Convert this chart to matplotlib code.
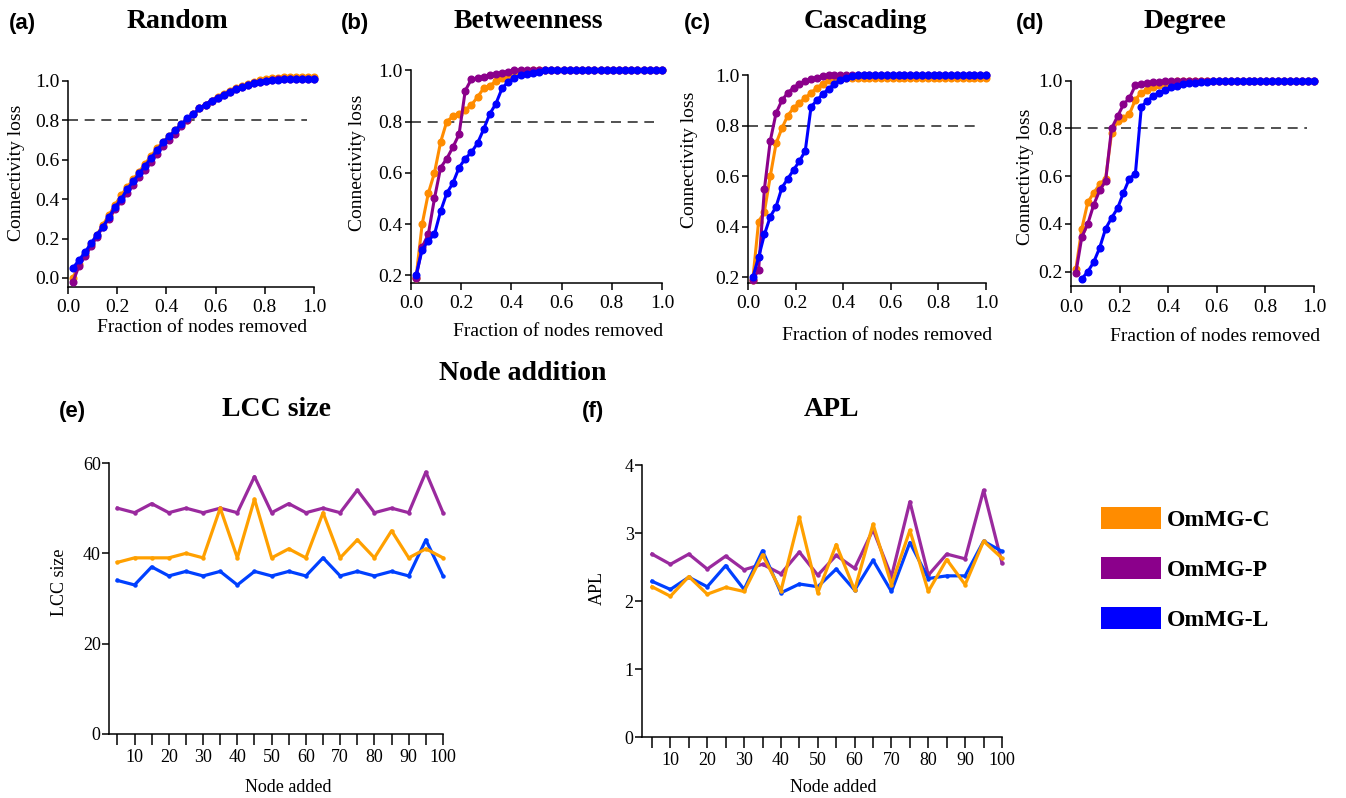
import numpy as np
import matplotlib
matplotlib.use("Agg")
import matplotlib.pyplot as plt
from matplotlib.patches import Patch
from matplotlib.font_manager import FontProperties

plt.rcParams['font.family'] = ['Liberation Serif', 'DejaVu Serif']

W, H = 1346, 798

# colours
C_TOP = {'C': '#FF8C00', 'P': '#8B008B', 'L': '#0000FF'}
C_BOT = {'C': '#FFA000', 'P': '#9A2A9E', 'L': '#0040FF'}

# ---- node removal (fraction of nodes removed vs connectivity loss)
frac = np.linspace(0.02, 1.0, 41)

random_c = [0.0, .07, .12, .17, .22, .27, .32, .37, .42, .46,
            .50, .54, .58, .62, .66, .69, .72, .75, .78, .80,
            .83, .86, .88, .90, .92, .935, .95, .965, .975, .985,
            .995, 1.005, 1.01, 1.015, 1.015, 1.02, 1.02, 1.02, 1.02, 1.02, 1.02]
random_p = [-0.02, .06, .11, .16, .21, .26, .30, .35, .39, .43,
            .47, .51, .55, .59, .63, .67, .70, .73, .77, .80,
            .83, .86, .88, .90, .915, .93, .945, .96, .97, .98,
            .99, .995, 1.0, 1.005, 1.01, 1.01, 1.01, 1.01, 1.01, 1.01, 1.01]
random_l = [.05, .09, .13, .175, .22, .26, .31, .36, .40, .45,
            .49, .53, .57, .61, .65, .69, .72, .75, .78, .81,
            .83, .86, .88, .90, .915, .93, .945, .96, .97, .98,
            .99, .995, 1.0, 1.005, 1.005, 1.01, 1.01, 1.01, 1.01, 1.01, 1.01]

betw_c = [.19, .40, .52, .60, .72, .80, .82, .83, .845, .865,
          .895, .93, .94, .957, .968, .976, .983, .99, .995, 1.0] + [1.0] * 21
betw_p = [.19, .31, .36, .50, .62, .655, .70, .75, .92, .965,
          .97, .975, .98, .985, .99, .995] + [1.0] * 25
betw_l = [.20, .30, .335, .36, .45, .52, .56, .62, .655, .68,
          .715, .77, .83, .87, .93, .955, .97, .98, .985, .99, .995] + [1.0] * 20

casc_c = [.19, .42, .46, .60, .73, .79, .84, .87, .89, .91,
          .93, .95, .965, .98, .985] + [.99] * 26
casc_p = [.19, .23, .55, .74, .85, .90, .93, .95, .965, .975,
          .985, .99, .995] + [1.0] * 28
casc_l = [.20, .28, .37, .44, .48, .555, .59, .625, .66, .70,
          .875, .90, .925, .945, .965, .98, .99, .995] + [1.0] * 23

deg_c = [.21, .38, .49, .53, .565, .59, .78, .83, .845, .86,
         .92, .95, .962, .972, .982, .99, .995] + [1.0] * 24
deg_p = [.195, .345, .40, .48, .54, .58, .80, .85, .90, .927,
         .98, .985, .99, .993, .995, .997] + [1.0] * 25
deg_l = [np.nan, .17, .20, .24, .30, .38, .425, .465, .53, .59,
         .61, .89, .915, .935, .95, .96, .972, .978, .985, .99,
         .99, .993, .995, .997] + [1.0] * 17

# ---- node addition
nodes = list(range(5, 105, 5))
lcc_c = [38, 39, 39, 39, 40, 39, 50, 39, 52, 39, 41, 39, 49, 39, 43, 39, 45, 39, 41, 39]
lcc_p = [50, 49, 51, 49, 50, 49, 50, 49, 57, 49, 51, 49, 50, 49, 54, 49, 50, 49, 58, 49]
lcc_l = [34, 33, 37, 35, 36, 35, 36, 33, 36, 35, 36, 35, 39, 35, 36, 35, 36, 35, 43, 35]

apl_c = [2.21, 2.07, 2.36, 2.10, 2.20, 2.14, 2.68, 2.15, 3.23, 2.12,
         2.83, 2.16, 3.13, 2.24, 3.04, 2.14, 2.61, 2.24, 2.88, 2.63]
apl_p = [2.69, 2.54, 2.69, 2.47, 2.66, 2.46, 2.54, 2.40, 2.72, 2.38,
         2.67, 2.48, 3.05, 2.36, 3.46, 2.38, 2.69, 2.62, 3.63, 2.56]
apl_l = [2.29, 2.17, 2.35, 2.21, 2.52, 2.17, 2.74, 2.12, 2.25, 2.21,
         2.47, 2.16, 2.60, 2.14, 2.86, 2.33, 2.37, 2.37, 2.88, 2.73]

legend_labels = ['OmMG-C', 'OmMG-P', 'OmMG-L']


def px(x, y):
    # pixel position (from top-left) -> figure fraction
    return x / W, 1 - y / H


def add_axes_px(left, right, top, bottom):
    return fig.add_axes([left / W, 1 - bottom / H, (right - left) / W, (bottom - top) / H])


def top_panel(box, ylow, ytop, yticks, series, tag, title, tag_x, title_x,
              ylab_xy, xlab_xy):
    ax = add_axes_px(*box)
    for key, vals in zip(['C', 'P', 'L'], series):
        ax.plot(frac, vals, color=C_TOP[key], lw=2.2, marker='o', ms=4.8,
                clip_on=False, zorder=3)
    ax.hlines(0.8, 0, 0.97, colors='#333333', linestyles=(0, (6, 4)), lw=1.2, zorder=2)
    ax.set_xlim(0, 1.0)
    ax.set_ylim(ylow, ytop)
    ax.set_xticks(np.arange(0, 1.01, 0.2))
    ax.set_xticklabels([f"{v:.1f}" for v in np.arange(0, 1.01, 0.2)])
    ax.set_yticks(yticks)
    ax.set_yticklabels([f"{v:.1f}" for v in yticks])
    for s in ['top', 'right']:
        ax.spines[s].set_visible(False)
    ax.spines['left'].set_bounds(ylow, 1.0)
    ax.spines['bottom'].set_bounds(0, 1.0)
    for s in ['left', 'bottom']:
        ax.spines[s].set_linewidth(1.1)
    ax.tick_params(direction='out', length=4, width=1.1, labelsize=14, pad=2)
    ax.tick_params(axis='x', length=5, pad=4)
    fig.text(*px(*ylab_xy), 'Connectivity loss', rotation=90, ha='center', va='center', fontsize=14)
    fig.text(*px(*xlab_xy), 'Fraction of nodes removed', ha='center', va='center', fontsize=14)
    fig.text(*px(tag_x, 23), tag, ha='center', va='center', fontsize=16,
             weight='bold', family='Liberation Sans')
    fig.text(*px(title_x, 21), title, ha='center', va='center', fontsize=20, weight='bold')
    return ax


def bottom_panel(box, xlow, ytop, yticks, series, tag, title, tag_x, title_x,
                 ylab, ylab_xy, xlab_xy):
    ax = add_axes_px(*box)
    for key, vals in zip(['P', 'L', 'C'], series):
        ax.plot(nodes, vals, color=C_BOT[key], lw=2.3, marker='o', ms=2.2,
                clip_on=False)
    ax.set_xlim(xlow, 100)
    ax.set_ylim(0, ytop)
    ax.set_xticks(nodes)
    ax.set_xticklabels([str(n) if n % 10 == 0 else '' for n in nodes])
    ax.set_yticks(yticks)
    for s in ['top', 'right']:
        ax.spines[s].set_visible(False)
    for s in ['left', 'bottom']:
        ax.spines[s].set_linewidth(1.1)
    ax.tick_params(direction='out', width=1.1, labelsize=13)
    ax.tick_params(axis='y', length=5, pad=1)
    ax.tick_params(axis='x', length=8, pad=3)
    fig.text(*px(*ylab_xy), ylab, rotation=90, ha='center', va='center', fontsize=13)
    fig.text(*px(*xlab_xy), 'Node added', ha='center', va='center', fontsize=13)
    fig.text(*px(tag_x, 411), tag, ha='center', va='center', fontsize=16,
             weight='bold', family='Liberation Sans')
    fig.text(*px(title_x, 410), title, ha='center', va='center', fontsize=20, weight='bold')
    return ax


fig = plt.figure(figsize=(W / 100, H / 100), dpi=100)

top_panel((68, 314, 71, 287), -0.046, 1.05, [0.0, 0.2, 0.4, 0.6, 0.8, 1.0],
          [random_c, random_p, random_l], '(a)', 'Random', 22, 177,
          (17, 173), (202, 328))
top_panel((411, 662, 60, 283), 0.17, 1.04, [0.2, 0.4, 0.6, 0.8, 1.0],
          [betw_c, betw_p, betw_l], '(b)', 'Betweenness', 355, 528,
          (357, 163), (558, 332))
top_panel((748, 986, 65, 283), 0.178, 1.04, [0.2, 0.4, 0.6, 0.8, 1.0],
          [casc_c, casc_p, casc_l], '(c)', 'Cascading', 697, 865,
          (690, 160), (887, 335))
top_panel((1071, 1314, 71, 286), 0.14, 1.04, [0.2, 0.4, 0.6, 0.8, 1.0],
          [deg_c, deg_p, deg_l], '(d)', 'Degree', 1030, 1185,
          (1025, 177), (1215, 337))

fig.text(*px(523, 374), 'Node addition', ha='center', va='center', fontsize=20, weight='bold')

bottom_panel((109, 443, 463, 734), 2.55, 60, [0, 20, 40, 60],
             [lcc_p, lcc_l, lcc_c], '(e)', 'LCC size', 72, 277,
             'LCC size', (60, 582), (288, 787))
bottom_panel((642, 1002, 465, 737), 2.29, 4, [0, 1, 2, 3, 4],
             [apl_p, apl_l, apl_c], '(f)', 'APL', 593, 832,
             'APL', (597, 588), (833, 787))

handles = [Patch(facecolor=C_TOP[k], edgecolor='none') for k in ['C', 'P', 'L']]
fig.legend(handles, legend_labels, loc='upper left', bbox_to_anchor=px(1101, 507),
           frameon=False, prop=FontProperties(family='Liberation Serif', weight='bold', size=17),
           handlelength=2.55, handleheight=1.05, handletextpad=0.25,
           labelspacing=1.1, borderpad=0, borderaxespad=0)

fig.savefig('out.png', dpi=100)
